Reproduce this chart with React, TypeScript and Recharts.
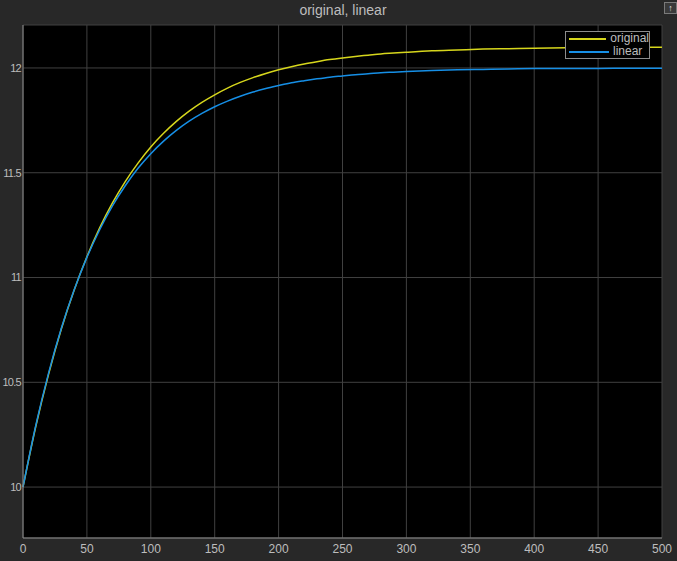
import { LineChart, Line, XAxis, YAxis, CartesianGrid } from "recharts";

// time axis (s)
const time = [
  0, 10, 20, 30, 40, 50, 60, 70, 80, 90, 100, 110, 120, 130, 140, 150, 160,
  170, 180, 190, 200, 210, 220, 230, 240, 250, 260, 270, 280, 290, 300, 320,
  340, 360, 380, 400, 425, 450, 475, 500,
];

// values
const original = [
  10.0, 10.289, 10.538, 10.754, 10.939, 11.099, 11.237, 11.356, 11.458, 11.546,
  11.623, 11.688, 11.745, 11.794, 11.836, 11.872, 11.904, 11.931, 11.954,
  11.974, 11.991, 12.006, 12.019, 12.03, 12.04, 12.048, 12.055, 12.061, 12.067,
  12.071, 12.075, 12.082, 12.086, 12.09, 12.092, 12.094, 12.096, 12.097,
  12.098, 12.099,
];

const linear = [
  10.0, 10.294, 10.544, 10.758, 10.94, 11.096, 11.228, 11.342, 11.438, 11.521,
  11.591, 11.651, 11.702, 11.746, 11.783, 11.815, 11.842, 11.865, 11.885,
  11.902, 11.916, 11.929, 11.939, 11.948, 11.956, 11.962, 11.968, 11.972,
  11.977, 11.98, 11.983, 11.988, 11.991, 11.993, 11.995, 11.997, 11.998,
  11.998, 11.999, 11.999,
];

const seriesNames = ["original", "linear"];
const xTicks = [0, 50, 100, 150, 200, 250, 300, 350, 400, 450, 500];
const yTicks = [10, 10.5, 11, 11.5, 12];

const title = "original, linear";

const FONT = "'Liberation Sans', Arial, sans-serif";
const TEXT = "#bdbdbd";
const YELLOW = "#d6d61c";
const BLUE = "#168fe6";
const colors = [YELLOW, BLUE];

const chartData = time.map((t, i) => ({
  t,
  original: original[i],
  linear: linear[i],
}));

// legend box drawn on top of the plot, like the scope's legend
function ScopeLegend() {
  return (
    <div
      style={{
        position: "absolute",
        left: 565,
        top: 31,
        width: 83,
        height: 26,
        border: "1px solid #8c8c8c",
        background: "#000",
        fontFamily: FONT,
        fontSize: 12,
        color: TEXT,
        lineHeight: "13px",
      }}
    >
      {seriesNames.map((name, i) => (
        <div key={name} style={{ display: "flex", alignItems: "center", height: 13 }}>
          <div style={{ marginLeft: 3, width: 40, height: 2, background: colors[i] }} />
          <span style={{ marginLeft: 4 }}>{name}</span>
        </div>
      ))}
    </div>
  );
}

export default function App() {
  return (
    <div
      style={{
        position: "absolute",
        left: 0,
        top: 0,
        width: 677,
        height: 561,
        background: "#282828",
        overflow: "hidden",
      }}
    >
      <div
        style={{
          position: "absolute",
          left: 0,
          top: 2,
          width: 686,
          textAlign: "center",
          fontFamily: FONT,
          fontSize: 14,
          color: TEXT,
        }}
      >
        {title}
      </div>
      {/* undock icon, top right */}
      <div
        style={{
          position: "absolute",
          left: 664,
          top: 2,
          width: 11,
          height: 10,
          border: "1px solid #7a7a7a",
          background: "#3a3a3a",
          color: "#e0e0e0",
          fontSize: 9,
          lineHeight: "10px",
          textAlign: "center",
        }}
      >
        ↑
      </div>
      <LineChart
        width={677}
        height={561}
        data={chartData}
        margin={{ top: 25, right: 15, left: 0, bottom: 0 }}
        style={{ position: "absolute", left: 0, top: 0 }}
      >
        <CartesianGrid stroke="#404040" fill="#000" />
        <XAxis
          dataKey="t"
          type="number"
          domain={[0, 500]}
          ticks={xTicks}
          height={23}
          stroke="#8a8a8a"
          tickLine={false}
          tickSize={4}
          tickMargin={2}
          tick={{ fill: TEXT, fontSize: 12, fontFamily: FONT }}
          interval={0}
        />
        <XAxis
          xAxisId="top"
          orientation="top"
          dataKey="t"
          type="number"
          domain={[0, 500]}
          height={0}
          tick={false}
          tickLine={false}
          stroke="#8a8a8a"
        />
        <YAxis
          type="number"
          domain={[9.757, 12.205]}
          ticks={yTicks}
          width={23}
          stroke="#8a8a8a"
          tickLine={false}
          tickSize={2}
          tickMargin={0}
          tick={{
            fill: TEXT,
            fontSize: 11,
            fontFamily: FONT,
            letterSpacing: "-0.7",
          }}
          interval={0}
          allowDataOverflow
        />
        <YAxis
          yAxisId="right"
          orientation="right"
          type="number"
          domain={[9.757, 12.205]}
          width={0}
          tick={false}
          tickLine={false}
          stroke="#8a8a8a"
        />
        <Line
          dataKey="original"
          stroke={YELLOW}
          strokeWidth={1.5}
          dot={false}
          type="monotone"
          isAnimationActive={false}
        />
        <Line
          dataKey="linear"
          stroke={BLUE}
          strokeWidth={1.5}
          dot={false}
          type="monotone"
          isAnimationActive={false}
        />
      </LineChart>
      <ScopeLegend />
    </div>
  );
}
